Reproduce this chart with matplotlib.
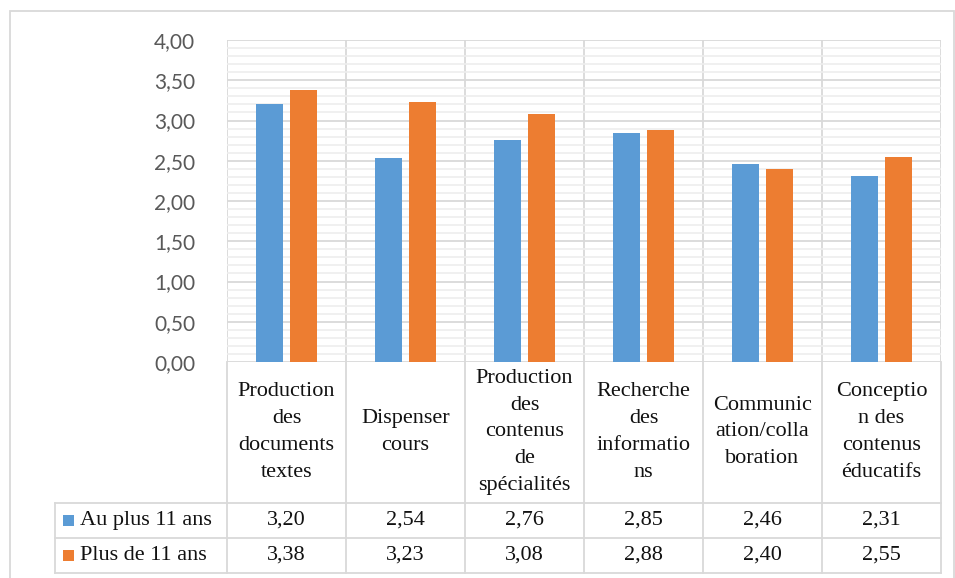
import numpy as np
import matplotlib.pyplot as plt
import matplotlib.transforms as mtransforms
from matplotlib.patches import Rectangle

# data
categories = ["Production\ndes\ndocuments\ntextes",
              "Dispenser\ncours",
              "Production\ndes\ncontenus\nde\nspécialités",
              "Recherche\ndes\ninformatio\nns",
              "Communic\nation/colla\nboration",
              "Conceptio\nn des\ncontenus\néducatifs"]
series_names = ["Au plus 11 ans", "Plus de 11 ans"]
au_plus_11 = [3.20, 2.54, 2.76, 2.85, 2.46, 2.31]
plus_de_11 = [3.38, 3.23, 3.08, 2.88, 2.40, 2.55]
yticks = [0.0, 0.5, 1.0, 1.5, 2.0, 2.5, 3.0, 3.5, 4.0]

colors = ["#5B9BD5", "#ED7D31"]
grid_major = "#D9D9D9"
grid_minor = "#EDEDED"

W, H = 955, 578
fig = plt.figure(figsize=(W / 100, H / 100), dpi=100)

def fx(px):
    return px / W

def fy(py):
    return 1 - py / H

# outer chart border
fig.patches.append(Rectangle((fx(10), fy(600)), fx(944), fy(11) - fy(600),
                             transform=fig.transFigure, fill=False,
                             edgecolor=grid_major, linewidth=1.3))

left, right, top, bottom = 227, 941, 40, 362
ax = fig.add_axes([fx(left), fy(bottom), fx(right - left), fy(top) - fy(bottom)])

x = np.arange(len(categories))
bw = 0.227
off = 0.143
ax.bar(x - off, au_plus_11, bw, color=colors[0], zorder=3)
ax.bar(x + off, plus_de_11, bw, color=colors[1], zorder=3)

ax.set_xlim(-0.5, len(categories) - 0.5)
ax.set_ylim(0, 4)
ax.set_yticks(yticks)
ax.set_yticklabels([f"{v:.2f}".replace(".", ",") for v in yticks],
                   fontsize=15, color="#595959", family="Lato")
ax.set_yticks(np.arange(0, 4.01, 0.1), minor=True)
ax.tick_params(axis="y", which="both", length=0, pad=23)
ax.set_xticks([])
ax.grid(axis="y", which="minor", color=grid_minor, linewidth=1.2, zorder=0)
ax.grid(axis="y", which="major", color=grid_major, linewidth=1.3, zorder=1)
for b in np.arange(-0.5, len(categories), 1.0):
    ax.axvline(b, color=grid_major, linewidth=1.3, zorder=1)
for s in ax.spines.values():
    s.set_visible(False)

# data table below the plot
tr = mtransforms.blended_transform_factory(ax.transData, fig.transFigure)
tr_fig = fig.transFigure
row_tops = [362, 503, 538, 573]
serif = "Liberation Serif"
fs = 16

for b in np.arange(-0.5, len(categories), 1.0):
    ax.plot([b, b], [fy(row_tops[0]), fy(row_tops[-1])], transform=tr,
            color=grid_major, linewidth=1.3, clip_on=False)
for yy in row_tops[1:]:
    ax.plot([fx(55), fx(right)], [fy(yy), fy(yy)], transform=tr_fig,
            color=grid_major, linewidth=1.3, clip_on=False)
ax.plot([fx(55), fx(55)], [fy(row_tops[1]), fy(row_tops[-1])], transform=tr_fig,
        color=grid_major, linewidth=1.3, clip_on=False)

for i, cat in enumerate(categories):
    ax.text(i, fy(432), cat, transform=tr, ha="center", va="center",
            fontsize=fs, family=serif, linespacing=1.56, color="#111111")

for r, (name, vals) in enumerate(zip(series_names, [au_plus_11, plus_de_11])):
    cy = (row_tops[r + 1] + row_tops[r + 2]) / 2
    for i, v in enumerate(vals):
        ax.text(i, fy(cy), f"{v:.2f}".replace(".", ","), transform=tr,
                ha="center", va="center", fontsize=fs, family=serif, color="#111111")
    fig.patches.append(Rectangle((fx(63), fy(cy + 5.5)), fx(11), fy(cy - 5.5) - fy(cy + 5.5),
                                 transform=tr_fig, facecolor=colors[r], edgecolor="none"))
    fig.text(fx(80), fy(cy), name, ha="left", va="center", fontsize=fs,
             family=serif, color="#111111")

fig.savefig("out.png", dpi=100)
